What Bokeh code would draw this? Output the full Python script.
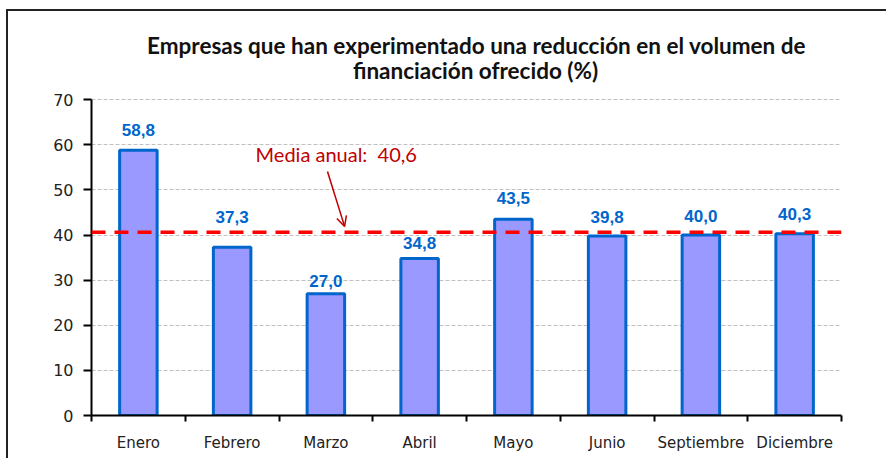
from bokeh.plotting import figure
from bokeh.models import (FixedTicker, Span, Arrow, OpenHead, Label, LabelSet,
                          ColumnDataSource, Range1d)
from bokeh.core.properties import value
from bokeh.embed import file_html
from bokeh.resources import INLINE

months = ["Enero", "Febrero", "Marzo", "Abril", "Mayo", "Junio", "Septiembre", "Diciembre"]
values = [58.8, 37.3, 27.0, 34.8, 43.5, 39.8, 40.0, 40.3]
mean_value = 40.6
y_ticks = [0, 10, 20, 30, 40, 50, 60, 70]
title_line1 = "Empresas que han experimentado una reducción en el volumen de"
title_line2 = "financiación ofrecido (%)"
mean_text = "Media anual:\u00a0 40,6"

# pixel lift of each value label above its bar (layout only)
label_lift = [20, 30, 13, 16, 21, 19, 19, 20]

xpos = [i + 0.5 for i in range(len(months))]
labels = [f"{v:.1f}".replace(".", ",") for v in values]
src = ColumnDataSource(dict(x=xpos, top=values, label=labels, lift=label_lift))

# y range extends above 70 to leave room for the title inside the frame
p = figure(width=880, height=449, x_range=Range1d(0, len(months)), y_range=Range1d(0, 88),
           output_backend="svg", toolbar_location=None, title=None,
           min_border_left=83, min_border_right=47, min_border_top=7, min_border_bottom=45,
           styles={"margin-left": "6px", "margin-top": "9px",
                   "border-left": "2px solid #222", "border-top": "2px solid #222"})
p.background_fill_color = "white"
p.border_fill_color = "white"
p.outline_line_color = None

# title (two centred lines)
p.add_layout(Label(x=4.107, y=81.97, text=title_line1, text_align="center",
                   text_baseline="middle", text_font="Lato", text_font_size="22.5px",
                   text_font_style="bold", text_color="#111111"))
p.add_layout(Label(x=4.096, y=76.43, text=title_line2, text_align="center",
                   text_baseline="middle", text_font="Lato", text_font_size="22.5px",
                   text_font_style="bold", text_color="#111111"))

# y axis
p.yaxis.ticker = FixedTicker(ticks=y_ticks)
p.yaxis.bounds = (0, 70)
p.yaxis.major_tick_in = 0
p.yaxis.major_tick_out = 8
p.yaxis.minor_tick_line_color = None
p.yaxis.axis_line_width = 2
p.yaxis.major_tick_line_width = 2
p.yaxis.axis_line_color = "black"
p.yaxis.major_label_text_font = "DejaVu Sans"
p.yaxis.major_label_text_font_size = "16px"
p.yaxis.major_label_text_color = "#222222"
p.yaxis.major_label_standoff = 10

# x axis: labels at centers, ticks between categories
p.xaxis.ticker = FixedTicker(ticks=xpos, minor_ticks=list(range(len(months) + 1)))
p.xaxis.major_label_overrides = {x: m for x, m in zip(xpos, months)}
p.xaxis.major_tick_line_color = None
p.xaxis.minor_tick_in = 0
p.xaxis.minor_tick_out = 6
p.xaxis.minor_tick_line_width = 2
p.xaxis.minor_tick_line_color = "black"
p.xaxis.axis_line_width = 2
p.xaxis.axis_line_color = "black"
p.xaxis.major_label_text_font = "DejaVu Sans"
p.xaxis.major_label_text_font_size = "15px"
p.xaxis.major_label_text_color = "#222222"
p.xaxis.major_label_standoff = 12

p.xgrid.visible = False
p.ygrid.grid_line_color = "#c0c0c0"
p.ygrid.grid_line_dash = "4 2"
p.ygrid.grid_line_width = 1

p.vbar(x="x", top="top", width=0.4, source=src, fill_color="#9999ff",
       line_color="#0066cc", line_width=3)

p.add_layout(LabelSet(x="x", y="top", text="label", source=src, y_offset="lift",
                      text_align="center", text_baseline="middle",
                      text_color="#0066cc", text_font=value("Liberation Sans"),
                      text_font_style="bold", text_font_size="17px"))

p.add_layout(Span(location=mean_value, dimension="width", line_color="#ff0000",
                  line_dash="14 9", line_width=3.5))

p.add_layout(Arrow(end=OpenHead(size=10, line_color="#c00000", line_width=1.5),
                   x_start=2.517, y_start=54.1, x_end=2.70, y_end=41.9,
                   line_color="#c00000", line_width=1.5))
p.add_layout(Label(x=1.75, y=58.0, text=mean_text, text_baseline="middle",
                   text_color="#c00000", text_font="Lato", text_font_size="20px"))

open("out.html", "w").write(file_html(p, INLINE))
